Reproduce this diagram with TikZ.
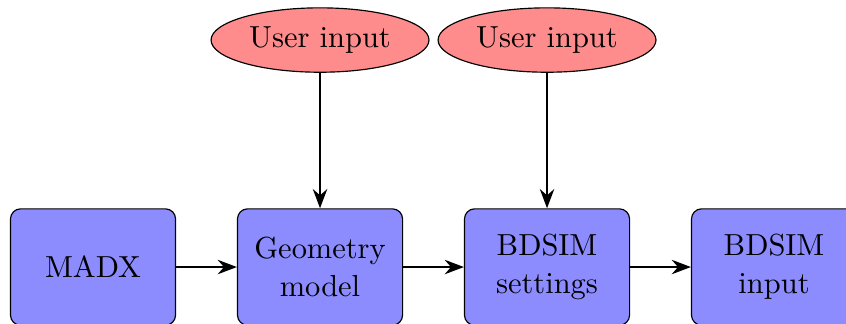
\documentclass[tikz,border=0pt]{standalone}
\usepackage{amsmath}
\usetikzlibrary{positioning,shapes.geometric,arrows.meta}

\tikzset{
  block/.style={draw, rounded corners=3.5pt, fill=blue!45, minimum width=2cm, minimum height=1.41cm, align=center},
  userin/.style={draw, ellipse, fill=red!45, inner sep=1pt, minimum width=2.64cm, minimum height=0.78cm},
  conn/.style={thick, -Stealth}
}

\begin{document}
\begin{tikzpicture}[node distance=0.736cm, font=\fontsize{10.5pt}{13pt}\selectfont]
  \useasboundingbox (-1.127,-0.69) rectangle (9.122,3.235);
  % chain of blocks
  \node[block] (madx) at (0,0) {MADX};
  \node[block, right=of madx] (geom) {Geometry\\model};
  \node[block, right=of geom] (settings) {BDSIM\\settings};
  \node[block, right=of settings] (bdsin) {BDSIM\\input};
  % user inputs
  \node[userin] (ui1) at (geom |- 0,2.75) {User input};
  \node[userin] (ui2) at (settings |- 0,2.75) {User input};

  \draw[conn] (madx) -- (geom);
  \draw[conn] (geom) -- (settings);
  \draw[conn] (settings) -- (bdsin);
  \draw[conn] (ui1) -- (geom);
  \draw[conn] (ui2) -- (settings);
\end{tikzpicture}
\end{document}
